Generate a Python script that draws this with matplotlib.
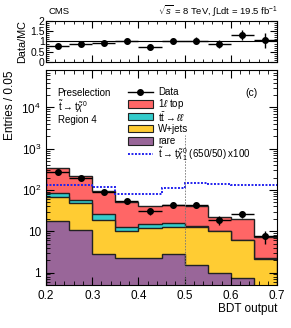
import numpy as np
import matplotlib
matplotlib.use("Agg")
import matplotlib.pyplot as plt
from matplotlib.patches import Rectangle

plt.rcParams['font.family'] = ['Liberation Sans', 'DejaVu Sans']
plt.rcParams['mathtext.fontset'] = 'custom'
plt.rcParams['mathtext.rm'] = 'Liberation Sans'
plt.rcParams['mathtext.it'] = 'Liberation Sans:italic'

edges = np.linspace(0.2, 0.7, 11)
rare = [17.5, 11, 2.8, 2.2, 2.3, 2.8, 1.5, 1.0, 0.75, 0.3]
wjets = [50, 37, 16, 7.8, 9.7, 10.2, 11.1, 9.0, 5.25, 1.8]
ttll = [18, 9, 7, 3, 3, 3, 0.5, 0.3, 0.2, 0.1]
onel = [260, 162, 69, 38, 27, 27, 28, 11.7, 13.65, 4.9]
data = [275, 196, 89, 53, 31, 44, 43, 19, 26, 7.5]
data_err = [17, 14, 9.4, 7.3, 5.5, 6.6, 6.6, 4.4, 5.1, 2.7]
signal = [136, 136, 118, 80, 80, 112, 148, 140, 132, 132]

colors = ['#ff6666', '#33cccc', '#ffcc33', '#996699']
sig_color = '#2222ee'

centers = 0.5 * (edges[:-1] + edges[1:])
mc = np.array(rare) + np.array(wjets) + np.array(ttll) + np.array(onel)
ratio = np.array(data) / mc
ratio_err = np.array(data_err) / mc

fig = plt.figure(figsize=(2.91, 3.28), dpi=100)
axr = fig.add_axes([0.158, 0.811, 0.794, 0.125])
ax = fig.add_axes([0.158, 0.131, 0.794, 0.655])

# stack, drawn cumulative from the largest down
c1 = np.array(rare)
c2 = c1 + np.array(wjets)
c3 = c2 + np.array(ttll)
c4 = c3 + np.array(onel)
for vals, col in zip([c4, c3, c2, c1], colors):
    ax.stairs(vals, edges, baseline=1e-3, fill=True, color=col)
    ax.stairs(vals, edges, baseline=1e-3, color='#222222', lw=1.0)

ax.stairs(signal, edges, baseline=None, color=sig_color, lw=1.4, ls=(0, (1, 0.8)))
ax.errorbar(centers, data, yerr=data_err, xerr=0.025, fmt='o', color='black',
            ms=4, elinewidth=1, capsize=0)
ax.plot([0.5, 0.5], [0.5, 2200], color='#777777', lw=0.6, ls=(0, (2, 1.5)))

ax.set_yscale('log')
ax.set_xlim(0.2, 0.7)
ax.set_ylim(0.5, 8e4)
ax.set_xticks([0.2, 0.3, 0.4, 0.5, 0.6, 0.7])
ax.set_xticks(np.arange(0.2, 0.701, 0.02), minor=True)
ax.set_yticks([1, 10, 100, 1000, 10000])
ax.set_yticklabels(['1', '10', '$10^2$', '$10^3$', '$10^4$'])
ax.tick_params(which='both', direction='in', top=True, right=True, labelsize=8.5)
ax.tick_params(which='major', length=6)
ax.tick_params(which='minor', length=3)
ax.set_ylabel('Entries / 0.05', fontsize=8.5, loc='top')
ax.set_xlabel('BDT output', fontsize=8.5, loc='right', labelpad=1)

ax.text(0.05, 0.895, 'Preselection', transform=ax.transAxes, fontsize=7, va='center')
ax.text(0.05, 0.832, r'$\tilde{\mathrm{t}}\rightarrow\mathrm{t}\tilde{\chi}^0$',
        transform=ax.transAxes, fontsize=7, va='center')
ax.text(0.05, 0.766, 'Region 4', transform=ax.transAxes, fontsize=7, va='center')
ax.text(0.89, 0.893, '(c)', transform=ax.transAxes, fontsize=7.5, va='center', ha='center')

# legend drawn row by row
rows = [0.898, 0.842, 0.784, 0.728, 0.672, 0.612]
labels = ['Data', r'1$\ell$ top', r't$\bar{\mathrm{t}}\rightarrow\ell\ell$', 'W+jets', 'rare',
          r'$\tilde{\mathrm{t}}\rightarrow\mathrm{t}\tilde{\chi}^0_1$ (650/50) x100']
x0, x1, xt = 0.355, 0.463, 0.485
ax.plot([x0, x1], [rows[0]] * 2, color='black', lw=1, transform=ax.transAxes)
ax.plot([0.5 * (x0 + x1)], [rows[0]], 'o', color='black', ms=4, transform=ax.transAxes)
for y, col in zip(rows[1:5], colors):
    ax.add_patch(Rectangle((x0, y - 0.018), x1 - x0, 0.036, facecolor=col,
                           edgecolor='#222222', lw=0.8, transform=ax.transAxes))
ax.plot([x0, x1], [rows[5]] * 2, color=sig_color, lw=1.4, ls=(0, (1, 0.8)),
        transform=ax.transAxes)
for y, lab in zip(rows, labels):
    ax.text(xt, y, lab, transform=ax.transAxes, fontsize=7, va='center')

# ratio panel
axr.axhline(1, color='black', lw=0.8)
axr.errorbar(centers, ratio, yerr=ratio_err, xerr=0.025, fmt='o', color='black',
             ms=4, elinewidth=1, capsize=0)
axr.set_xlim(0.2, 0.7)
axr.set_ylim(0, 2)
axr.set_yticks([0, 0.5, 1, 1.5, 2])
axr.set_yticklabels(['0', '0.5', '1', '1.5', '2'])
axr.set_xticks([0.2, 0.3, 0.4, 0.5, 0.6, 0.7])
axr.set_xticks(np.arange(0.2, 0.701, 0.02), minor=True)
axr.set_yticks(np.arange(0, 2.01, 0.1), minor=True)
axr.tick_params(which='both', direction='in', top=True, right=True, labelsize=7.5,
                labelbottom=False, pad=1)
axr.tick_params(which='major', length=5)
axr.tick_params(which='minor', length=2.5)
axr.set_ylabel('Data/MC', fontsize=7.8, labelpad=2)

fig.text(0.165, 0.965, 'CMS', fontsize=6.8, va='center')
fig.text(0.955, 0.965, r'$\sqrt{s}$ = 8 TeV, $\int$Ldt = 19.5 fb$^{-1}$', fontsize=6.8,
         va='center', ha='right')

fig.savefig('out.png', dpi=100)
